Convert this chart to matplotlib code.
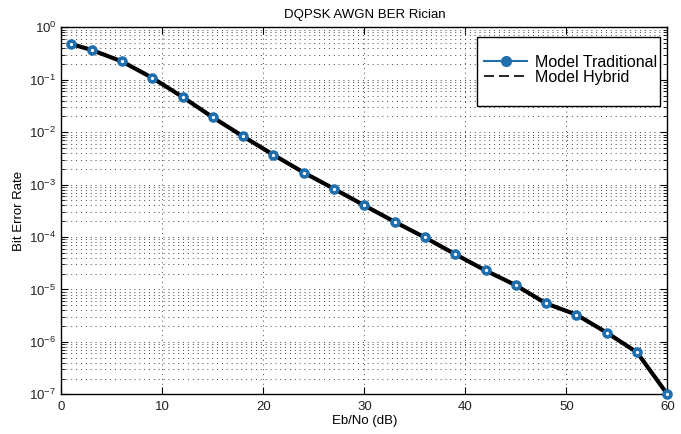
import numpy as np
import matplotlib
matplotlib.use("Agg")
import matplotlib.pyplot as plt
from matplotlib.lines import Line2D
from matplotlib.patches import Rectangle
from matplotlib.ticker import FixedLocator, MultipleLocator, NullFormatter, LogFormatterSciNotation

plt.rcParams['font.family'] = ['Liberation Sans', 'DejaVu Sans']
plt.rcParams['mathtext.fontset'] = 'custom'
plt.rcParams['mathtext.rm'] = 'Liberation Sans'
plt.rcParams['mathtext.it'] = 'Liberation Sans'

ebno = [1, 3, 6, 9, 12, 15, 18, 21, 24, 27, 30, 33, 36, 39, 42, 45, 48, 51, 54, 57, 60]
ber_traditional = [0.48, 0.37, 0.224, 0.109, 0.047, 0.0192, 0.0083, 0.0037, 0.0017,
                   8.3e-4, 4.0e-4, 1.95e-4, 9.8e-5, 4.7e-5, 2.3e-5, 1.2e-5, 5.4e-6,
                   3.3e-6, 1.5e-6, 6.3e-7, 1.0e-7]
ber_hybrid = list(ber_traditional)

title = "DQPSK AWGN BER Rician"
xlabel = "Eb/No (dB)"
ylabel = "Bit Error Rate"
legend_labels = ["Model Traditional", "Model Hybrid"]
x_ticks = [0, 10, 20, 30, 40, 50, 60]
y_exponents = [-7, -6, -5, -4, -3, -2, -1, 0]

blue = "#1f6fae"

fig = plt.figure(figsize=(6.81, 4.34), dpi=100)
ax = fig.add_axes([0.090, 0.0915, 0.890, 0.8455])

ax.semilogy(ebno, ber_traditional, color=blue, lw=2, zorder=3)
ax.semilogy(ebno, ber_hybrid, color='black', lw=3.0, zorder=4)
ax.plot(ebno, ber_traditional, ls='none', marker='o', ms=5,
        mfc='white', mec=blue, mew=2.6, zorder=5, clip_on=False)

ax.set_xlim(0, 60)
ax.set_ylim(1e-7, 1)
ax.xaxis.set_major_locator(FixedLocator(x_ticks))
major_y = [10.0 ** e for e in y_exponents]
minor_y = [m * 10.0 ** e for e in y_exponents[:-1] for m in range(2, 10)]
ax.yaxis.set_major_locator(FixedLocator(major_y))
ax.yaxis.set_minor_locator(FixedLocator(minor_y))
ax.yaxis.set_major_formatter(LogFormatterSciNotation())
ax.yaxis.set_minor_formatter(NullFormatter())

ax.grid(True, which='major', ls=(0, (1, 4)), color='#444444', lw=0.7)
ax.grid(True, which='minor', axis='y', ls=(0, (1, 4)), color='#444444', lw=0.7)

ax.tick_params(which='both', direction='in', top=True, right=True, labelsize=9.5,
               labelcolor='#222222')
ax.tick_params(which='major', length=5)
ax.tick_params(which='minor', length=3)
ax.tick_params(axis='x', pad=5)
for s in ax.spines.values():
    s.set_linewidth(1.0)

ax.set_title(title, fontsize=9.5, pad=7)
ax.set_xlabel(xlabel, fontsize=9.5, labelpad=1)
ax.set_ylabel(ylabel, fontsize=9.5, labelpad=3)

# legend box (MATLAB style)
box = Rectangle((477 / 681, 1 - 106 / 434), (660 - 477) / 681, (106 - 37) / 434,
                transform=fig.transFigure, facecolor='white', edgecolor='black',
                lw=1.0, zorder=6)
box.set_clip_on(False)
ax.add_artist(box)

handles = [
    Line2D([0], [0], color=blue, lw=1.5, marker='o', ms=7, mfc=blue, mec=blue),
    Line2D([0], [0], color='black', lw=1.2, ls=(0, (6, 3))),
]
leg = ax.legend(handles, legend_labels, loc='upper left',
                bbox_to_anchor=(484 / 681, 1 - 55 / 434),
                bbox_transform=fig.transFigure, fontsize=11.5,
                frameon=False, borderaxespad=0, borderpad=0,
                handlelength=2.7, handletextpad=0.5, labelspacing=0.0)
leg.set_zorder(7)

fig.savefig("out.png", dpi=100)
